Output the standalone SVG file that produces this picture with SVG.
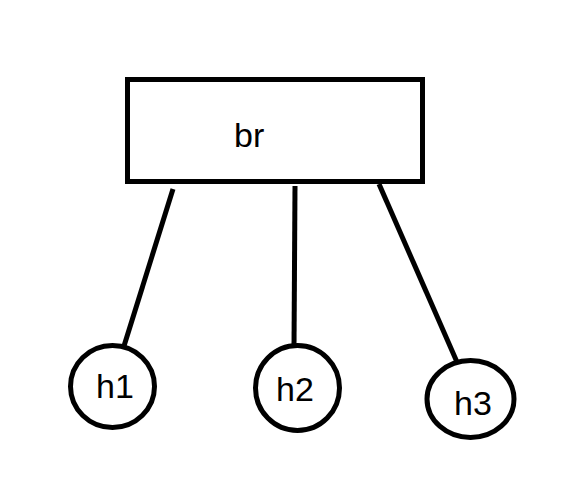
<svg xmlns="http://www.w3.org/2000/svg" width="570" height="489" viewBox="0 0 570 489">
  <style>
    .shape { fill: #ffffff; stroke: #000000; stroke-width: 5; }
    .link { stroke: #000000; stroke-width: 5; fill: none; }
    .label { font-family: "Liberation Sans", Arial, sans-serif; font-size: 34px; fill: #000000; }
  </style>
  <rect width="570" height="489" fill="#ffffff"/>
  <g id="connectors">
    <line class="link" x1="173" y1="189" x2="124" y2="346"/>
    <line class="link" x1="295" y1="186" x2="294" y2="347"/>
    <line class="link" x1="379" y1="184" x2="457" y2="362"/>
  </g>
  <g id="br">
    <rect class="shape" x="127.5" y="79.5" width="295" height="102"/>
    <text class="label" x="234" y="147">br</text>
  </g>
  <g id="h1">
    <ellipse class="shape" cx="112.5" cy="386.5" rx="42" ry="41"/>
    <text class="label" x="96" y="398">h1</text>
  </g>
  <g id="h2">
    <ellipse class="shape" cx="297.5" cy="388" rx="42" ry="42.5"/>
    <text class="label" x="276" y="401">h2</text>
  </g>
  <g id="h3">
    <ellipse class="shape" cx="470.5" cy="399" rx="43.5" ry="38.5"/>
    <text class="label" x="454" y="415">h3</text>
  </g>
</svg>
